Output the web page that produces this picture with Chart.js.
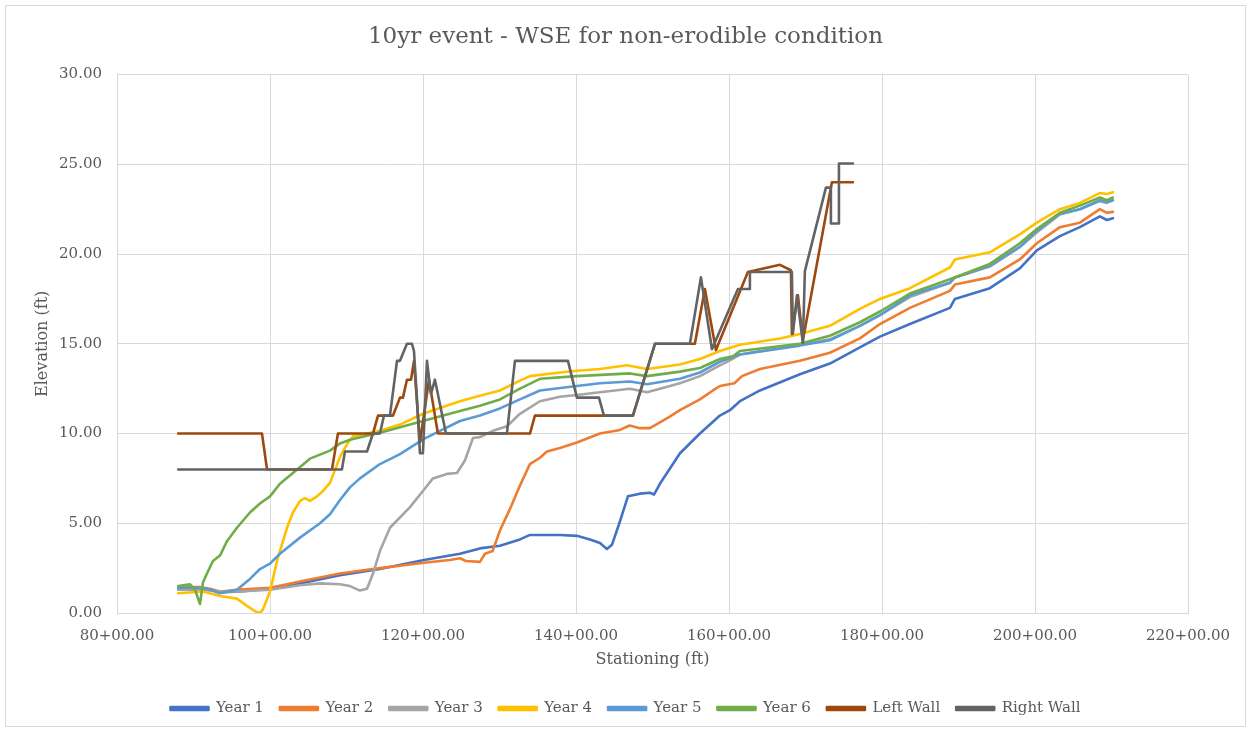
<!DOCTYPE html>
<html>
<head>
<meta charset="utf-8">
<title>10yr event - WSE for non-erodible condition</title>
<script src="https://cdn.jsdelivr.net/npm/chart.js@4.4.0/dist/chart.umd.min.js"></script>
<style>
  html, body { margin: 0; padding: 0; background: #fff; }
  #wrap { width: 1251px; height: 732px; position: relative; }
</style>
</head>
<body>
<div id="wrap"><canvas id="wseChart"></canvas></div>
<script>
// stationing in ft (8800 = 88+00.00), water surface elevation in ft
const year1Sta = [8800, 9085, 9216, 9346, 9608, 10000, 10392, 10915, 11437, 12012, 12483, 12744, 13006, 13267, 13398, 13790, 14012, 14183, 14313, 14404, 14470, 14574, 14679, 14836, 14966, 15019, 15097, 15359, 15620, 15881, 16012, 16143, 16405, 16927, 17319, 17711, 17973, 18365, 18888, 18953, 19410, 19802, 20024, 20325, 20586, 20848, 20940, 21018];
const year1Wse = [1.4, 1.4, 1.3, 1.15, 1.2, 1.35, 1.65, 2.1, 2.45, 2.95, 3.3, 3.6, 3.75, 4.1, 4.35, 4.35, 4.3, 4.1, 3.9, 3.57, 3.8, 5.1, 6.5, 6.65, 6.7, 6.6, 7.2, 8.9, 10.0, 11.0, 11.3, 11.8, 12.4, 13.3, 13.9, 14.8, 15.4, 16.1, 17.0, 17.5, 18.1, 19.2, 20.2, 21.0, 21.5, 22.1, 21.9, 22.0];

const year2Sta = [8800, 9085, 9216, 9346, 9608, 10000, 10392, 10915, 11437, 12012, 12350, 12483, 12560, 12744, 12810, 12910, 13006, 13137, 13267, 13398, 13529, 13620, 13790, 14012, 14313, 14574, 14700, 14836, 14966, 15210, 15359, 15620, 15790, 15881, 16070, 16170, 16405, 16927, 17319, 17711, 17973, 18365, 18888, 18953, 19410, 19802, 20024, 20325, 20586, 20848, 20940, 21018];
const year2Wse = [1.45, 1.45, 1.35, 1.2, 1.3, 1.4, 1.75, 2.2, 2.5, 2.8, 2.95, 3.05, 2.9, 2.85, 3.3, 3.45, 4.6, 5.8, 7.1, 8.3, 8.65, 9.0, 9.2, 9.5, 10.0, 10.2, 10.45, 10.3, 10.3, 10.9, 11.3, 11.9, 12.4, 12.65, 12.8, 13.2, 13.6, 14.05, 14.5, 15.3, 16.1, 17.0, 17.95, 18.3, 18.7, 19.7, 20.6, 21.5, 21.75, 22.5, 22.3, 22.35];

const year3Sta = [8800, 9085, 9346, 9608, 10000, 10392, 10653, 10915, 11045, 11176, 11268, 11346, 11437, 11568, 11830, 11999, 12130, 12313, 12444, 12548, 12653, 12744, 12914, 13097, 13267, 13529, 13790, 14012, 14313, 14705, 14927, 15097, 15359, 15620, 15881, 15999, 16143, 16927, 17319, 17711, 17973, 18365, 18888, 18953, 19410, 19802, 20024, 20325, 20586, 20848, 20940, 21018];
const year3Wse = [1.3, 1.3, 1.2, 1.2, 1.3, 1.55, 1.65, 1.6, 1.5, 1.25, 1.35, 2.2, 3.45, 4.75, 5.9, 6.8, 7.5, 7.75, 7.8, 8.5, 9.75, 9.8, 10.15, 10.4, 11.1, 11.8, 12.05, 12.15, 12.3, 12.5, 12.3, 12.5, 12.8, 13.2, 13.8, 14.05, 14.4, 14.95, 15.25, 16.0, 16.6, 17.6, 18.4, 18.7, 19.3, 20.4, 21.2, 22.2, 22.5, 22.95, 22.85, 23.0];

const year4Sta = [8800, 9124, 9346, 9568, 9699, 9804, 9869, 9908, 10000, 10091, 10222, 10300, 10392, 10457, 10522, 10614, 10692, 10784, 10915, 11006, 11085, 11268, 11437, 11699, 11999, 12483, 12744, 13006, 13267, 13398, 13790, 14012, 14313, 14666, 14927, 15359, 15620, 15881, 16143, 16666, 16927, 17319, 17711, 17973, 18365, 18888, 18953, 19410, 19802, 20024, 20325, 20586, 20848, 20940, 21018];
const year4Wse = [1.1, 1.2, 0.95, 0.8, 0.4, 0.1, 0.0, 0.2, 1.2, 2.9, 4.75, 5.6, 6.25, 6.4, 6.25, 6.5, 6.8, 7.25, 8.7, 9.4, 9.85, 10.0, 10.15, 10.5, 11.1, 11.8, 12.1, 12.4, 12.95, 13.2, 13.4, 13.5, 13.6, 13.8, 13.6, 13.85, 14.15, 14.6, 14.95, 15.3, 15.55, 16.0, 16.95, 17.5, 18.1, 19.25, 19.7, 20.1, 21.1, 21.75, 22.5, 22.85, 23.4, 23.35, 23.45];

const year5Sta = [8800, 9085, 9216, 9346, 9568, 9738, 9869, 10000, 10130, 10392, 10653, 10784, 10915, 11045, 11176, 11437, 11699, 12012, 12222, 12483, 12744, 13006, 13267, 13529, 14012, 14313, 14705, 14927, 15359, 15620, 15881, 16143, 16927, 17319, 17711, 17973, 18365, 18888, 18953, 19410, 19802, 20024, 20325, 20586, 20848, 20940, 21018];
const year5Wse = [1.4, 1.4, 1.3, 1.1, 1.3, 1.9, 2.45, 2.75, 3.3, 4.2, 5.0, 5.5, 6.3, 7.0, 7.5, 8.3, 8.85, 9.7, 10.15, 10.7, 11.0, 11.4, 11.9, 12.4, 12.65, 12.8, 12.9, 12.75, 13.05, 13.4, 14.0, 14.4, 14.9, 15.2, 16.0, 16.6, 17.7, 18.4, 18.7, 19.35, 20.4, 21.3, 22.25, 22.5, 23.0, 22.9, 23.0];

const year6Sta = [8800, 8954, 9019, 9085, 9124, 9176, 9254, 9346, 9437, 9568, 9738, 9869, 10000, 10130, 10300, 10522, 10784, 10915, 11045, 11437, 11999, 12483, 12744, 13006, 13267, 13529, 14012, 14705, 14927, 15359, 15620, 15881, 16052, 16143, 16927, 17319, 17711, 17973, 18365, 18888, 19410, 19802, 20024, 20325, 20586, 20848, 20940, 21018];
const year6Wse = [1.5, 1.6, 1.3, 0.5, 1.7, 2.2, 2.9, 3.2, 4.0, 4.75, 5.6, 6.1, 6.5, 7.2, 7.8, 8.6, 9.05, 9.45, 9.65, 10.05, 10.7, 11.25, 11.55, 11.9, 12.5, 13.05, 13.2, 13.35, 13.2, 13.45, 13.65, 14.15, 14.3, 14.6, 15.0, 15.45, 16.2, 16.8, 17.8, 18.6, 19.45, 20.6, 21.4, 22.3, 22.7, 23.15, 23.0, 23.15];

const leftWallSta = [8800, 9895, 9961, 10810, 10888, 11346, 11412, 11608, 11699, 11738, 11790, 11843, 11882, 11960, 12078, 12195, 13398, 13463, 14744, 15032, 15554, 15685, 15829, 16247, 16666, 16810, 16822, 16901, 16966, 17345, 17620];
const leftWallElev = [10, 10, 8, 8, 10, 10, 11, 11, 12, 12, 13, 13, 14.05, 9.5, 13.0, 10, 10, 11, 11, 15, 15, 18.05, 14.65, 19.0, 19.4, 19.1, 15.55, 17.7, 15.2, 24.0, 24.0];

const rightWallSta = [8800, 10940, 10980, 11268, 11346, 11437, 11490, 11568, 11660, 11699, 11790, 11856, 11882, 11920, 11960, 11999, 12052, 12104, 12156, 12300, 13097, 13202, 13895, 14012, 14300, 14365, 14744, 15032, 15489, 15633, 15777, 16117, 16273, 16273, 16822, 16835, 16888, 16966, 16992, 17267, 17332, 17332, 17437, 17437, 17620];
const rightWallElev = [8, 8, 9, 9, 10, 10, 11, 11, 14.05, 14.05, 15.0, 15.0, 14.6, 12.0, 8.9, 8.9, 14.05, 12.2, 13.0, 10.0, 10.0, 14.05, 14.05, 12.0, 12.0, 11.0, 11.0, 15.0, 15.0, 18.7, 14.7, 18.05, 18.05, 19.0, 19.0, 15.55, 17.7, 15.05, 19.05, 23.7, 23.7, 21.7, 21.7, 25.05, 25.05];

const seriesNames = ["Year 1", "Year 2", "Year 3", "Year 4", "Year 5", "Year 6", "Left Wall", "Right Wall"];
const seriesColors = ["#4472C4", "#ED7D31", "#A5A5A5", "#FFC000", "#5B9BD5", "#70AD47", "#9E480E", "#636363"];
const seriesSta = [year1Sta, year2Sta, year3Sta, year4Sta, year5Sta, year6Sta, leftWallSta, rightWallSta];
const seriesVals = [year1Wse, year2Wse, year3Wse, year4Wse, year5Wse, year6Wse, leftWallElev, rightWallElev];

const xTicks = [8000, 10000, 12000, 14000, 16000, 18000, 20000, 22000];
const yTicks = [0, 5, 10, 15, 20, 25, 30];

const SERIF = "'DejaVu Serif', 'Liberation Serif', serif";
const TXT = "#595959";
const GRID = "#d9d9d9";

function fmtStation(v) {
  const whole = Math.floor(v / 100);
  const rest = (v - whole * 100).toFixed(2).padStart(5, "0");
  return whole + "+" + rest;
}

const datasets = seriesNames.map((name, i) => ({
  label: name,
  data: seriesSta[i].map((s, k) => ({ x: s, y: seriesVals[i][k] })),
  borderColor: seriesColors[i],
  backgroundColor: seriesColors[i],
  borderWidth: 2.6,
  borderJoinStyle: "round",
  borderCapStyle: "round",
  pointRadius: 0,
  tension: 0,
  fill: false,
  order: seriesNames.length - i // later series on top, like the original
}));

const frame = {
  id: "frame",
  beforeDraw(chart) {
    const c = chart.ctx;
    c.save();
    c.fillStyle = "#fff";
    c.fillRect(0, 0, chart.width, chart.height);
    c.strokeStyle = GRID;
    c.lineWidth = 1;
    c.strokeRect(5.5, 5.5, chart.width - 11, chart.height - 11);
    c.restore();
  }
};

new Chart(document.getElementById("wseChart"), {
  type: "line",
  data: { datasets },
  plugins: [frame],
  options: {
    responsive: true,
    maintainAspectRatio: false,
    animation: false,
    layout: { padding: { left: 0, right: 0, top: 0, bottom: 6 } },
    plugins: {
      title: {
        display: true,
        text: "10yr event - WSE for non-erodible condition",
        color: TXT,
        font: { family: SERIF, size: 23, weight: "normal" },
        padding: { top: 23, bottom: 24 }
      },
      legend: {
        position: "bottom",
        labels: {
          boxWidth: 38,
          boxHeight: 3,
          color: TXT,
          font: { family: SERIF, size: 15 },
          padding: 16,
          sort: (a, b) => a.datasetIndex - b.datasetIndex
        }
      },
      tooltip: { enabled: false }
    },
    scales: {
      x: {
        type: "linear",
        min: xTicks[0],
        max: xTicks[xTicks.length - 1],
        afterBuildTicks: axis => { axis.ticks = xTicks.map(v => ({ value: v })); },
        afterFit: axis => { axis.height = 72; },
        ticks: { callback: fmtStation, color: TXT, font: { family: SERIF, size: 15 }, padding: 14, maxRotation: 0 },
        grid: { color: GRID, drawTicks: false },
        border: { color: GRID },
        title: { display: true, text: "Stationing (ft)", color: TXT, font: { family: SERIF, size: 16 }, padding: { top: 4, bottom: 16 } }
      },
      y: {
        min: yTicks[0],
        max: yTicks[yTicks.length - 1],
        afterBuildTicks: axis => { axis.ticks = yTicks.map(v => ({ value: v })); },
        afterFit: axis => { axis.width = 117; },
        ticks: { callback: v => Number(v).toFixed(2), color: TXT, font: { family: SERIF, size: 15 }, padding: 15 },
        grid: { color: GRID, drawTicks: false },
        border: { color: GRID },
        title: { display: true, text: "Elevation (ft)", color: TXT, font: { family: SERIF, size: 16 }, padding: { top: 33, bottom: 0 } }
      },
      // empty right margin so title and legend centre on the whole canvas
      rightGap: {
        position: "right",
        min: 0,
        max: 1,
        afterFit: axis => { axis.width = 63; },
        ticks: { display: false },
        grid: { display: false, drawTicks: false },
        border: { display: false }
      }
    }
  }
});
</script>
</body>
</html>
